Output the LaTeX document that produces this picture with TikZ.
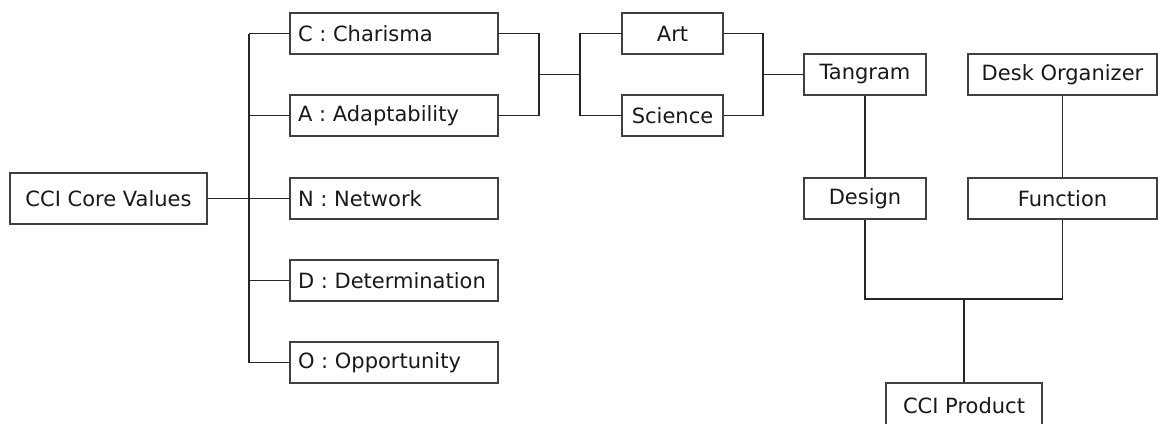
\documentclass[tikz,border=0pt]{standalone}
\usepackage{fontspec}
\setmainfont{DejaVu Sans}
\begin{document}
\begin{tikzpicture}[x=1pt,y=-1pt,
  box/.style={draw=black!75, line width=1.5pt, fill=white, inner sep=0pt, text=black!90,
    font=\fontsize{21}{24}\selectfont, minimum height=41pt},
  lbox/.style={box, text width=196pt, align=flush left, inner xsep=6pt, minimum width=208pt},
  link/.style={draw=black!85, line width=1.5pt}]
\useasboundingbox (0,0) rectangle (1158,423);
\fill[white] (0,0) rectangle (1158,423);
% nodes
\node[box, minimum width=197pt, minimum height=51pt] (core) at (108.5,198.5) {CCI Core Values};
\node[lbox] (C) at (394,33.5) {\hspace{2pt}C : Charisma};
\node[lbox] (A) at (394,115.5) {\hspace{2pt}A : Adaptability};
\node[lbox] (N) at (394,198.5) {\hspace{2pt}N : Network};
\node[lbox] (D) at (394,280.5) {\hspace{2pt}D : Determination};
\node[lbox] (O) at (394,362.5) {\hspace{2pt}O : Opportunity};
\node[box, minimum width=101pt] (art) at (672.5,33.5) {Art};
\node[box, minimum width=101pt] (sci) at (672.5,115.5) {Science};
\node[box, minimum width=122pt] (tan) at (865,74.5) {Tangram};
\node[box, minimum width=189pt] (desk) at (1062.5,74.5) {Desk Organizer};
\node[box, minimum width=122pt] (des) at (865,198.5) {Design};
\node[box, minimum width=189pt] (fun) at (1062.5,198.5) {Function};
\node[box, minimum width=156pt, minimum height=46pt] (prod) at (964,406) {CCI Product};
% helper coordinates
\coordinate (tk) at (249,0);
\coordinate (b1) at (539,0);
\coordinate (b2) at (580,0);
\coordinate (b3) at (763,0);
\coordinate (jn) at (964,299);
% connectors
\draw[link] (core.east) -- (core.east -| tk);
\draw[link] (tk |- C.west) -- (tk |- O.west);
\foreach \n in {C,A,N,D,O} \draw[link] (tk |- \n.west) -- (\n.west);
\draw[link] (C.east) -- (b1 |- C.east) -- (b1 |- A.east) -- (A.east);
\draw[link] (b1 |- tan.west) -- (b2 |- tan.west);
\draw[link] (art.west) -- (b2 |- art.west) -- (b2 |- sci.west) -- (sci.west);
\draw[link] (art.east) -- (b3 |- art.east) -- (b3 |- sci.east) -- (sci.east);
\draw[link] (b3 |- tan.west) -- (tan.west);
\draw[link] (tan.south) -- (des.north);
\draw[link] (desk.south) -- (fun.north);
\draw[link] (des.south) -- (des.south |- jn) -- (fun.south |- jn) -- (fun.south);
\draw[link] (jn) -- (prod.north);
\end{tikzpicture}
\end{document}
